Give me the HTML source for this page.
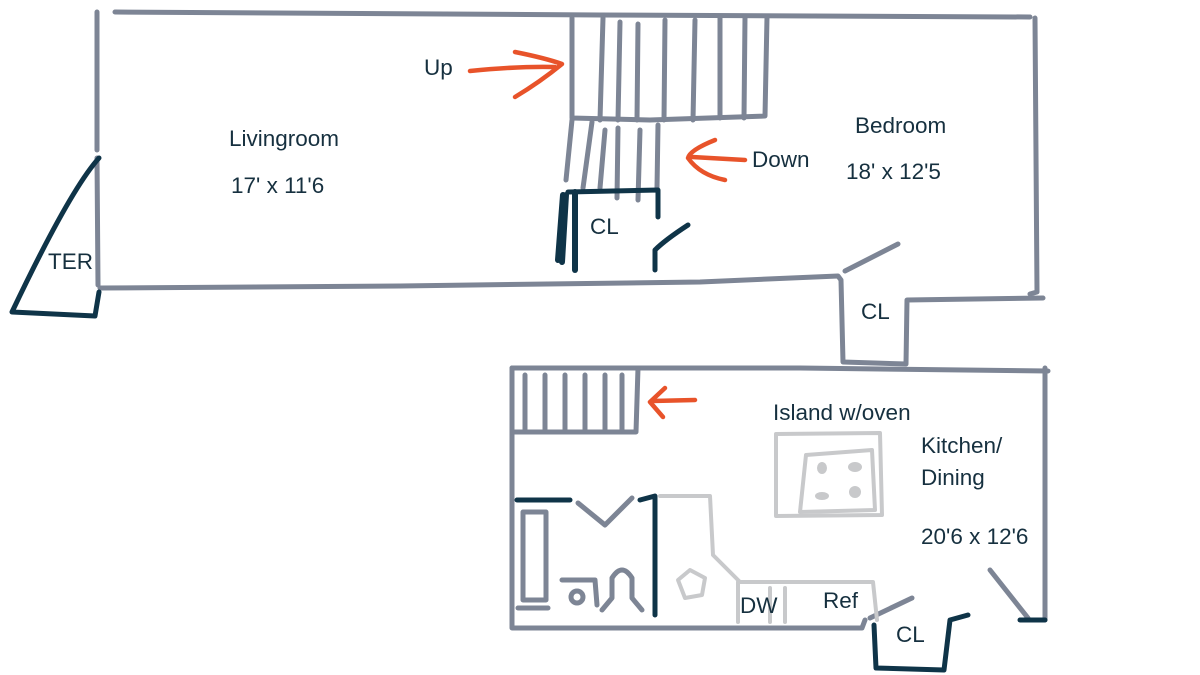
<!DOCTYPE html>
<html><head><meta charset="utf-8"><style>
html,body{margin:0;padding:0;background:#fff;}
svg{display:block}
text{font-family:"Liberation Sans",sans-serif;fill:#16303f;font-size:22.5px}
</style></head><body>
<svg width="1200" height="675" viewBox="0 0 1200 675" xmlns="http://www.w3.org/2000/svg">
<g fill="none" stroke-linecap="round" stroke-linejoin="round">
<g stroke="#7d8595" stroke-width="5">
<path d="M115 12 L600 15 L1030 17"/>
<path d="M97 12 L97 150"/>
<path d="M97 158 L98 285"/>
<path d="M100 288 L400 286 L700 282 L838 276 L841 280 L843 362 L906 364 L907 300 L1043 298"/>
<path d="M1035 18 L1037 292 L1030 294"/>
<path d="M845 271 L898 244"/>
<path d="M572 18 L572 118 L650 120 L765 116 L767 17"/>
<path d="M603 18 L600 120 M620 22 L618 120 M638 24 L637 120 M665 20 L664 120 M695 20 L693 120 M720 17 L720 118 M745 17 L744 118"/>
<path d="M572 120 L566 180 M592 122 L583 188 M605 130 L600 188 M618 128 L617 198 M640 130 L638 200 M658 125 L657 188"/>
<path d="M512 368 L800 368 L1048 371"/>
<path d="M1045 368 L1045 620"/>
<path d="M512 368 L512 628 L862 628 L865 620"/>
<path d="M512 432 L636 432 L638 368"/>
<path d="M525 375 L525 430 M545 375 L545 430 M565 375 L565 430 M585 375 L585 430 M605 375 L605 430 M622 375 L622 430"/>
<path d="M870 618 L912 598"/>
<path d="M990 570 L1028 618"/>
<path d="M578 503 L605 525 L632 498"/>
<path d="M523 512 L546 512 L546 600 L523 600 Z"/>
<path d="M518 608 L548 608"/>
<path d="M562 580 L595 580 L597 605"/>
<circle cx="577" cy="597" r="6"/>
<path d="M602 610 L612 598 L612 578 Q622 562 632 578 L632 598 L642 610"/>
</g>
<g stroke="#0f3448" stroke-width="5">
<path d="M568 192 L658 190 L658 217"/>
<path d="M575 192 L575 270" stroke-width="6"/>
<path d="M563 195 L558 260 M566 195 L562 262" stroke-width="6"/>
<path d="M655 270 L655 250 Q665 240 688 225"/>
<path d="M99 158 Q70 190 12 312 L95 316 L99 292"/>
<path d="M517 500 L570 500"/>
<path d="M640 500 L655 496 L655 615"/>
<path d="M874 625 L876 668 L944 670 L950 620 L968 615"/>
<path d="M1020 620 L1045 620"/>
</g>
<g stroke="#c8c9cb" stroke-width="4">
<path d="M776 434 L880 433 L882 515 L776 516 Z"/>
<path d="M806 455 L872 450 L875 510 L800 512 Z"/>
<path d="M660 496 L710 496 L713 555 L740 582 L873 582 L877 620"/>
<path d="M738 582 L738 622 M770 588 L770 622 M785 588 L785 622"/>
<path d="M678 580 L690 570 L705 578 L702 595 L685 598 Z"/>
</g>
<g fill="#c8c9cb">
<ellipse cx="822" cy="468" rx="5" ry="6"/><ellipse cx="855" cy="467" rx="7" ry="5"/>
<ellipse cx="822" cy="496" rx="7" ry="4"/><ellipse cx="855" cy="492" rx="6" ry="6"/>
</g>
<g stroke="#e8532a" stroke-width="4.5">
<path d="M470 71 Q520 66 555 67"/>
<path d="M515 52 Q545 58 562 64 Q540 82 515 97"/>
<path d="M745 160 L692 157"/>
<path d="M715 140 Q690 150 688 158 Q700 175 725 180"/>
<path d="M695 400 L652 401"/>
<path d="M665 388 L650 402 L663 417"/>
</g>
</g>
<text x="424" y="75">Up</text>
<text x="229" y="146">Livingroom</text>
<text x="231" y="193">17' x 11'6</text>
<text x="855" y="133">Bedroom</text>
<text x="752" y="167">Down</text>
<text x="846" y="179">18' x 12'5</text>
<text x="590" y="234">CL</text>
<text x="48" y="269">TER</text>
<text x="861" y="319">CL</text>
<text x="773" y="420">Island w/oven</text>
<text x="921" y="453">Kitchen/</text>
<text x="921" y="485">Dining</text>
<text x="921" y="544">20'6 x 12'6</text>
<text x="740" y="613">DW</text>
<text x="823" y="608">Ref</text>
<text x="896" y="642">CL</text>
</svg>
</body></html>
